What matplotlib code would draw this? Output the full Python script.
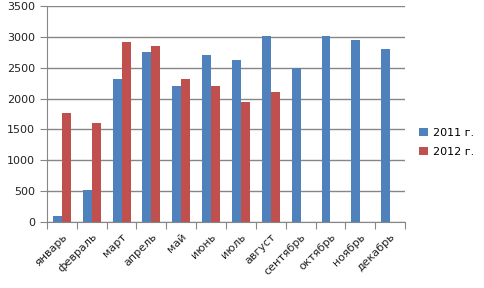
import matplotlib
matplotlib.use("Agg")
import matplotlib.pyplot as plt
import numpy as np

months = ["январь", "февраль", "март", "апрель", "май", "июнь", "июль",
          "август", "сентябрь", "октябрь", "ноябрь", "декабрь"]
y2011 = [100, 520, 2310, 2760, 2210, 2710, 2630, 3020, 2490, 3020, 2950, 2800]
y2012 = [1760, 1610, 2910, 2860, 2320, 2210, 1950, 2110, 0, 0, 0, 0]
yticks = [0, 500, 1000, 1500, 2000, 2500, 3000, 3500]

plt.rcParams['font.family'] = ['DejaVu Sans']
fig = plt.figure(figsize=(4.84, 2.88), dpi=100)
ax = fig.add_axes([0.097, 0.229, 0.74, 0.75])

x = np.arange(len(months))
w = 0.30
ax.bar(x - w/2, y2011, w, color="#4F81BD", label="2011 г.", zorder=3)
ax.bar(x + w/2, y2012, w, color="#C0504D", label="2012 г.", zorder=3)

ax.set_xlim(-0.5, len(months) - 0.5)
ax.set_ylim(0, 3500)
ax.set_yticks(yticks)
ax.yaxis.grid(True, color="#868686", linewidth=1, zorder=0)
ax.set_axisbelow(True)
for s in ["top", "right"]:
    ax.spines[s].set_visible(False)
ax.spines["left"].set_color("#868686")
ax.spines["bottom"].set_color("#868686")

ax.set_xticks(np.arange(len(months) + 1) - 0.5)
ax.set_xticklabels([])
ax.set_xticks(x, minor=True)
ax.set_xticklabels(months, minor=True, rotation=45, ha="right",
                   rotation_mode="anchor", fontsize=8, color="#222222")
ax.tick_params(axis="x", which="minor", length=0, pad=7)
ax.tick_params(axis="x", which="major", length=5, color="#868686")
ax.tick_params(axis="y", length=5, color="#868686", labelsize=8,
               labelcolor="#222222")

ax.legend(loc="center left", bbox_to_anchor=(1.01, 0.37), frameon=False,
          fontsize=8, handlelength=0.8, handleheight=0.8, handletextpad=0.5,
          labelspacing=0.8)

fig.savefig("out.png", dpi=100)
